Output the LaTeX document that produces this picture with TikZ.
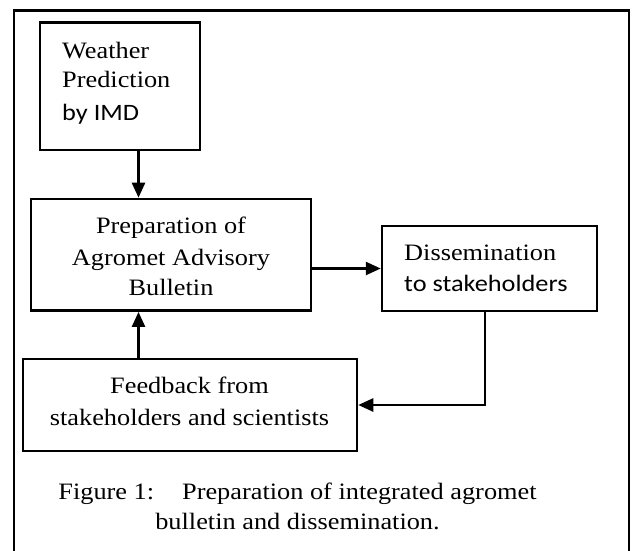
\documentclass[tikz,border=0pt]{standalone}
\usepackage{fontspec}
\usepackage{graphicx}
\setmainfont{Liberation Serif}
\newfontfamily\carl{Carlito}
\usetikzlibrary{arrows.meta,calc}
\newcommand{\stretchtxt}[1]{\scalebox{1.12}[1]{#1}}
\begin{document}
\begin{tikzpicture}[x=1pt,y=-1pt,
  box/.style={draw,line width=2.5pt,inner sep=0pt,rectangle},
  txt/.style={inner sep=0pt,font=\fontsize{23.5}{28}\selectfont},
  arr/.style={line width=2.5pt,-{Triangle[length=15pt,width=13pt]}},
  conn/.style={line width=2.5pt}]
\useasboundingbox (0,0) rectangle (632,551);
\fill[white] (0,0) rectangle (632,551);
% frame
\draw[line width=2.4pt] (14,553) -- (14,10.7) -- (629,10.7) -- (629,553);
% boxes
\node[box,minimum width=160pt,minimum height=127.3pt] (wp) at (120,86.3) {};
\node[box,minimum width=280pt,minimum height=111.7pt] (prep) at (171,254.8) {};
\node[box,minimum width=215pt,minimum height=85pt] (diss) at (489.5,268.5) {};
\node[box,minimum width=334pt,minimum height=92pt] (fb) at (190,405) {};
% texts
\node[txt,anchor=base west] (w1) at (62,58.3) {\stretchtxt{Weather}};
\node[txt,anchor=base west] (w2) at (62,87.3) {\stretchtxt{Prediction}};
\node[txt,anchor=base west] (w3) at (62,120) {\carl\stretchtxt{by IMD}};
\node[txt,anchor=base] (p1) at (171,233.3) {\stretchtxt{Preparation of}};
\node[txt,anchor=base] (p2) at (171,265) {\stretchtxt{Agromet Advisory}};
\node[txt,anchor=base] (p3) at (171,295) {\stretchtxt{Bulletin}};
\node[txt,anchor=base west] (d1) at (404,260) {\stretchtxt{Dissemination}};
\node[txt,anchor=base west] (d2) at (404,291.7) {\carl\stretchtxt{to stakeholders}};
\node[txt,anchor=base] (f1) at (189.5,393.3) {\stretchtxt{Feedback from}};
\node[txt,anchor=base] (f2) at (189.5,425.7) {\stretchtxt{stakeholders and scientists}};
\node[txt,anchor=base] (c1) at (297.5,499) {\stretchtxt{Figure 1:\hspace{25pt}Preparation of integrated agromet}};
\node[txt,anchor=base] (c2) at (297.5,529.3) {\stretchtxt{bulletin and dissemination.}};
% connectors
\coordinate (ax) at (138.5,0);
\draw[arr] (wp.south -| ax) -- (prep.north -| ax);
\draw[arr] (fb.north -| ax) -- (prep.south -| ax);
\draw[arr] (prep.east |- diss.west) -- (diss.west);
\coordinate (dx) at (485,0);
\draw[arr] (diss.south -| dx) -- (fb.east -| dx) -- (fb.east);
\end{tikzpicture}
\end{document}
